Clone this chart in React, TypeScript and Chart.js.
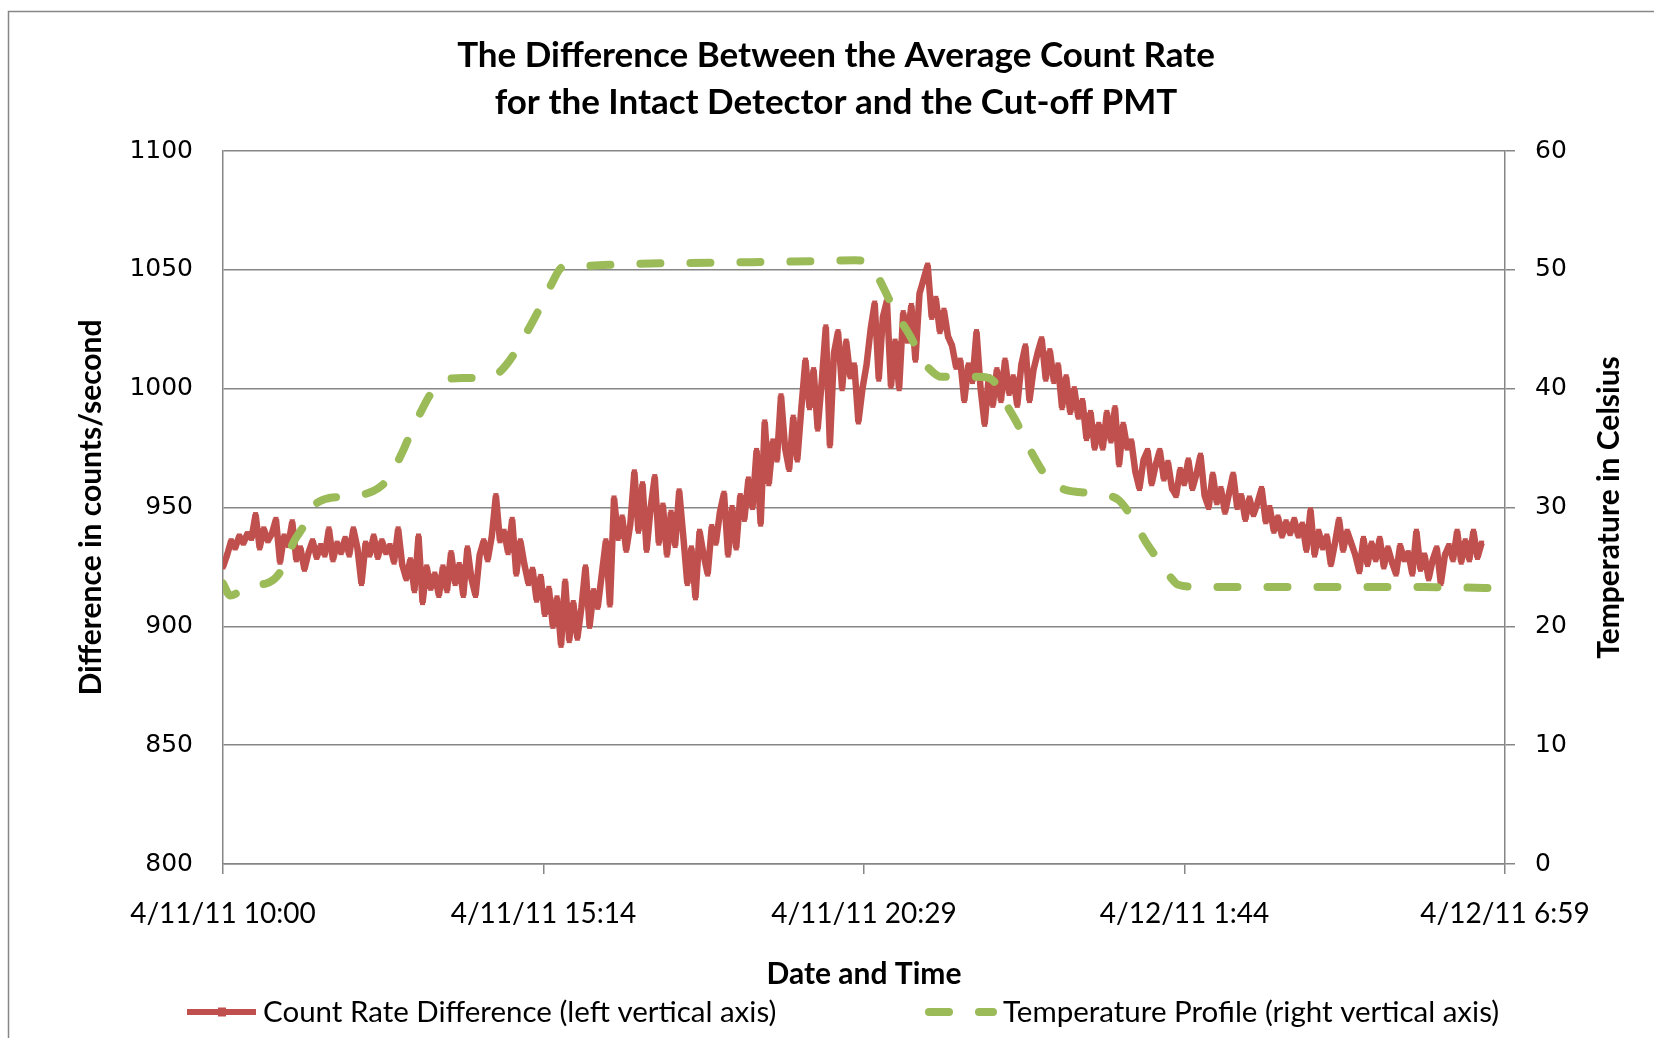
import { useEffect, useRef } from 'react';
import { Chart, registerables } from 'chart.js';

Chart.register(...registerables);

// Time axis: minutes after 4/11/11 10:00
const xMinMinutes = 0;
const xMaxMinutes = 1259;
const xTickMinutes = [0, 314.75, 629.5, 944.25, 1259];
const xTickLabels = ['4/11/11 10:00', '4/11/11 15:14', '4/11/11 20:29', '4/12/11 1:44', '4/12/11 6:59'];

const titleLines = ['The Difference Between the Average Count Rate', 'for the Intact Detector and the Cut-off PMT'];
const xAxisTitle = 'Date and Time';
const leftAxisTitle = 'Difference in counts/second';
const rightAxisTitle = 'Temperature in Celsius';
const countLabel = 'Count Rate Difference (left vertical axis)';
const tempLabel = 'Temperature Profile (right vertical axis)';

// Count rate difference, one reading every 4 minutes starting at 10:00
const countStepMinutes = 4;
const countValues = [
  925, 930, 936, 933, 938, 935, 939, 937,
  947, 933, 941, 936, 939, 945, 927, 938, 934, 944,
  928, 933, 924, 931,
  936, 929, 934, 930, 941, 928, 935, 931, 937, 930, 941, 933, 918, 935, 930, 938, 929, 936, 931, 934, 927, 941, 926,
  920, 928, 915, 938, 910, 925, 916, 922, 913,
  925, 915, 931, 918, 926, 913, 933, 920, 913,
  930, 936, 928, 938,
  955, 936,
  940, 931, 945, 922, 936,
  926, 918, 924, 911,
  921, 905, 916, 900, 912, 892,
  919, 894, 910, 895, 908, 925,
  900, 915, 908, 922, 936,
  909, 954,
  937, 946, 932, 943,
  965, 940, 960, 932, 950, 963,
  935, 951,
  930, 948, 934, 957,
  938, 918, 933, 912,
  940, 930, 922, 942,
  935, 948, 956, 930, 950, 933, 955,
  945, 962, 950, 974, 943,
  986, 960, 978,
  970, 997, 975, 966, 988, 970, 992,
  1012, 992, 1008, 983,
  1003, 1026, 976,
  1015, 1024, 1000, 1020, 1005,
  1010, 986, 1000,
  1010, 1025, 1036, 1004,
  1030, 1037, 1001, 1020, 1000,
  1032, 1020, 1035,
  1012, 1040,
  1046, 1052,
  1030, 1038, 1024, 1033, 1022,
  1018, 1009,
  1012, 995, 1010, 1003, 1024,
  1000, 985, 1005, 993,
  1008, 995, 1012, 998, 1005, 993, 1010, 1018, 995,
  1008, 1015, 1021, 1004, 1016,
  1003, 1010, 992, 1005, 990, 1000, 988,
  995, 979, 990, 975, 985,
  975, 990,
  978, 992, 968, 985, 975,
  978, 965,
  958, 970, 974, 960, 968, 974, 962, 969, 958, 955, 966, 960, 970, 958, 964, 972,
  955, 950,
  964, 952, 958, 948, 956, 964, 950,
  955, 945, 954, 947, 952, 958, 944, 950,
  940, 946, 938, 944, 939, 945, 938, 943,
  932, 949,
  930, 940, 933,
  938, 926, 935,
  945, 932, 940,
  935, 930, 923, 937,
  926, 935, 928, 937, 925, 933, 927, 922, 934, 928, 931,
  922, 940, 924, 930, 920,
  928, 933, 918, 930,
  934, 928, 940, 927, 936,
  928, 940, 929, 935,
];

// Temperature profile readings
const tempMinutes = [
  0, 7, 18, 30, 42, 53, 60, 70, 79, 88, 100, 115, 130, 142, 152, 161, 170, 178, 186, 194, 202, 210, 218,
  240, 260, 270, 280, 290, 300, 310, 322, 333, 345, 400, 480, 560, 620, 630, 638, 648, 660, 675, 687, 697,
  705, 720, 740, 752, 760, 768, 781, 793, 806, 815, 827, 840, 855, 870, 880, 893, 907, 921, 930, 938, 962,
  1000, 1060, 1120, 1180, 1259,
];
const tempValues = [
  23.6, 22.6, 23.0, 23.5, 23.6, 24.2, 25.2, 27.2, 28.4, 30.0, 30.7, 30.9, 31.0, 31.2, 31.6, 32.3, 33.6, 35.0, 36.6, 38.0, 39.3, 40.3, 40.8,
  40.9, 41.0, 41.3, 42.2, 43.5, 45.0, 46.6, 48.7, 50.2, 50.3, 50.5, 50.6, 50.7, 50.8, 50.7, 50.2, 48.6, 46.5, 44.4, 42.4, 41.4,
  41.0, 41.0, 41.0, 40.9, 40.3, 38.9, 36.9, 34.8, 32.9, 32.0, 31.5, 31.3, 31.2, 31.0, 30.6, 29.1, 27.0, 25.3, 24.2, 23.5, 23.3,
  23.3, 23.3, 23.3, 23.3, 23.2,
];

const leftMin = 800;
const leftMax = 1100;
const leftStep = 50;
const rightMin = 0;
const rightMax = 60;
const rightStep = 10;

const RED = '#C0504D';
const GREEN = '#9BBB59';
const GRID = '#868686';

export default function App() {
  const canvasRef = useRef<HTMLCanvasElement | null>(null);

  useEffect(() => {
    const canvas = canvasRef.current;
    if (!canvas) return;

    const countPoints = countValues.map((v, i) => ({ x: i * countStepMinutes, y: v }));
    const tempPoints = tempMinutes.map((m, i) => ({ x: m, y: tempValues[i] }));

    const decor = {
      id: 'decor',
      beforeDraw(chart: any) {
        const ctx = chart.ctx;
        ctx.save();
        ctx.fillStyle = '#ffffff';
        ctx.fillRect(0, 0, chart.width, chart.height);
        ctx.restore();
      },
      afterDraw(chart: any) {
        const ctx = chart.ctx as CanvasRenderingContext2D;
        const a = chart.chartArea;
        ctx.save();
        // outer chart border
        ctx.strokeStyle = GRID;
        ctx.lineWidth = 1.5;
        ctx.strokeRect(8.5, 11.5, 1800, 1200);

        ctx.fillStyle = '#000';
        ctx.textAlign = 'center';
        ctx.textBaseline = 'middle';
        // title
        ctx.font = 'bold 35px Lato';
        ctx.fillText(titleLines[0], 836, 56);
        ctx.fillText(titleLines[1], 836, 103);

        // x axis title
        ctx.font = 'bold 30px Lato';
        ctx.fillText(xAxisTitle, (a.left + a.right) / 2, 974);

        // left axis title
        const midY = (a.top + a.bottom) / 2;
        ctx.save();
        ctx.translate(91, midY);
        ctx.rotate(-Math.PI / 2);
        ctx.fillText(leftAxisTitle, 0, 0);
        ctx.restore();

        // right axis title
        ctx.save();
        ctx.translate(1609, midY);
        ctx.rotate(-Math.PI / 2);
        ctx.fillText(rightAxisTitle, 0, 0);
        ctx.restore();

        // legend
        const ly = 1012;
        ctx.strokeStyle = RED;
        ctx.lineWidth = 6;
        ctx.lineCap = 'butt';
        ctx.beginPath();
        ctx.moveTo(187, ly);
        ctx.lineTo(256, ly);
        ctx.stroke();
        ctx.fillStyle = RED;
        ctx.fillRect(218, ly - 4.5, 8, 9);

        ctx.strokeStyle = GREEN;
        ctx.lineWidth = 8;
        ctx.lineCap = 'round';
        ctx.setLineDash([20, 30]);
        ctx.beginPath();
        ctx.moveTo(929, ly);
        ctx.lineTo(993, ly);
        ctx.stroke();
        ctx.setLineDash([]);

        ctx.fillStyle = '#000';
        ctx.textAlign = 'left';
        ctx.font = '29.5px Lato';
        ctx.fillText(countLabel, 263, ly);
        ctx.fillText(tempLabel, 1003, ly);
        ctx.restore();
      },
    };

    const chart = new Chart(canvas, {
      type: 'line',
      data: {
        datasets: [
          {
            label: tempLabel,
            data: tempPoints,
            yAxisID: 'y1',
            borderColor: GREEN,
            backgroundColor: GREEN,
            borderWidth: 8,
            borderDash: [20, 30],
            borderCapStyle: 'round',
            borderJoinStyle: 'round',
            pointRadius: 0,
            cubicInterpolationMode: 'monotone',
            order: 0,
          },
          {
            label: countLabel,
            data: countPoints,
            yAxisID: 'y',
            borderColor: RED,
            backgroundColor: RED,
            borderWidth: 6.5,
            borderJoinStyle: 'bevel',
            pointStyle: 'rect',
            pointRadius: 3.6,
            pointBorderWidth: 0,
            pointBackgroundColor: RED,
            tension: 0,
            order: 1,
          },
        ],
      } as any,
      options: {
        responsive: false,
        devicePixelRatio: 1,
        animation: false,
        parsing: true,
        layout: { padding: { top: 151, left: 0, right: 0, bottom: 0 } },
        plugins: {
          legend: { display: false },
          title: { display: false },
          tooltip: { enabled: false },
        },
        scales: {
          x: {
            type: 'linear',
            min: xMinMinutes,
            max: xMaxMinutes,
            afterBuildTicks: (s: any) => {
              s.ticks = xTickMinutes.map((v) => ({ value: v }));
            },
            afterFit: (s: any) => {
              s.height = 174;
            },
            ticks: {
              autoSkip: false,
              minRotation: 0,
              maxRotation: 0,
              padding: 23,
              color: '#000',
              font: { family: 'Lato', size: 28 },
              callback: (_v: any, i: number) => xTickLabels[i],
            },
            grid: { drawOnChartArea: false, drawTicks: true, tickLength: 10, color: GRID, lineWidth: 1.5 },
            border: { display: true, color: GRID, width: 1.5 },
          },
          y: {
            type: 'linear',
            position: 'left',
            min: leftMin,
            max: leftMax,
            afterFit: (s: any) => {
              s.width = 223;
            },
            ticks: {
              stepSize: leftStep,
              padding: 30,
              color: '#000',
              font: { family: 'DejaVu Sans', size: 25 },
              callback: (v: any) => String(v),
            },
            grid: { drawOnChartArea: true, drawTicks: false, color: GRID, lineWidth: 1.5 },
            border: { display: true, color: GRID, width: 1.5 },
          },
          y1: {
            type: 'linear',
            position: 'right',
            min: rightMin,
            max: rightMax,
            afterFit: (s: any) => {
              s.width = 149;
            },
            ticks: {
              stepSize: rightStep,
              padding: 20,
              color: '#000',
              font: { family: 'DejaVu Sans', size: 25 },
              callback: (v: any) => String(v),
            },
            grid: { drawOnChartArea: false, drawTicks: true, tickLength: 10, color: GRID, lineWidth: 1.5 },
            border: { display: true, color: GRID, width: 1.5 },
          },
        },
      } as any,
      plugins: [decor],
    });

    return () => {
      chart.destroy();
    };
  }, []);

  return (
    <div style={{ position: 'absolute', left: 0, top: 0, width: 1654, height: 1038, background: '#fff' }}>
      <canvas ref={canvasRef} width={1654} height={1038} style={{ width: 1654, height: 1038, display: 'block' }} />
    </div>
  );
}
